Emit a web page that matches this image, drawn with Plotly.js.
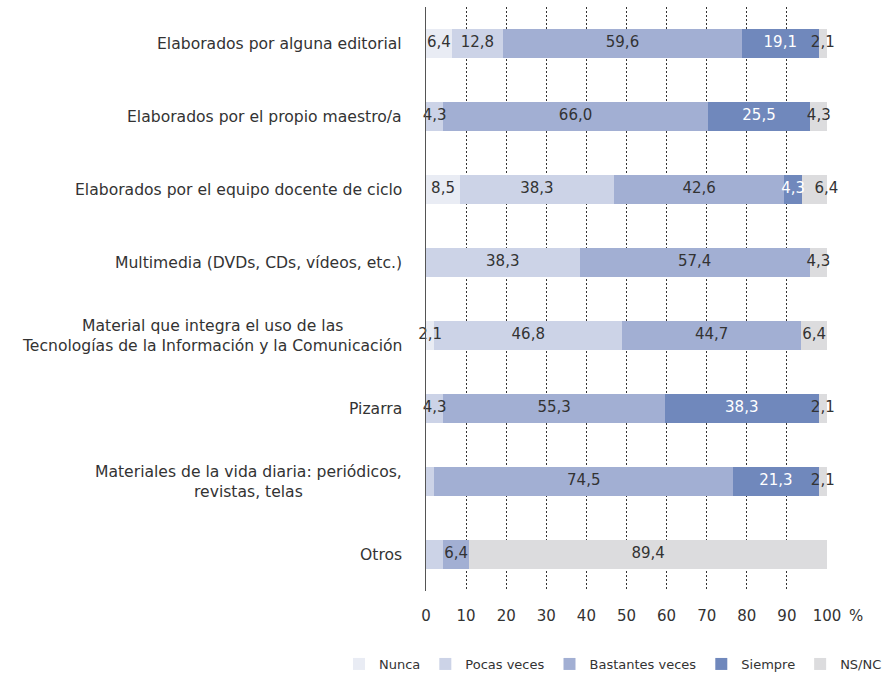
<!DOCTYPE html>
<html>
<head>
<meta charset="utf-8">
<script src="https://cdn.plot.ly/plotly-3.0.1.min.js"></script>
<style>html,body{margin:0;padding:0;background:#fff;}#chart{width:893px;height:677px;}</style>
</head>
<body>
<div id="chart"></div>
<script>
const categories = [
  "Elaborados por alguna editorial",
  "Elaborados por el propio maestro/a",
  "Elaborados por el equipo docente de ciclo",
  "Multimedia (DVDs, CDs, vídeos, etc.)",
  "Material que integra el uso de las<br>Tecnologías de la Información y la Comunicación",
  "Pizarra",
  "Materiales de la vida diaria: periódicos,<br>revistas, telas",
  "Otros"
];
const seriesNames = ["Nunca", "Pocas veces", "Bastantes veces", "Siempre", "NS/NC"];
const nunca     = [6.4, 0, 8.5, 0, 2.1, 0, 0, 0];
const pocas     = [12.8, 4.3, 38.3, 38.3, 46.8, 4.3, 2.1, 4.3];
const bastantes = [59.6, 66.0, 42.6, 57.4, 44.7, 55.3, 74.5, 6.4];
const siempre   = [19.1, 25.5, 4.3, 0, 0, 38.3, 21.3, 0];
const nsnc      = [2.1, 4.3, 6.4, 4.3, 6.4, 2.1, 2.1, 89.4];
// labels not printed in the original (segment too narrow)
const hiddenLabels = {"Pocas veces": [6, 7]};
// labels nudged to the right of their segment centre to avoid a neighbour
const nudgedLabels = {"NS/NC": [2]};
const xTickVals = [0, 10, 20, 30, 40, 50, 60, 70, 80, 90, 100];

const seriesValues = [nunca, pocas, bastantes, siempre, nsnc];
const colors = ["#E9ECF4", "#CCD3E7", "#A2AFD3", "#7088BC", "#DCDCDE"];
const textColors = ["#333333", "#333333", "#333333", "#ffffff", "#333333"];
const FONT = "DejaVu Sans, Verdana, sans-serif";

const barTraces = seriesNames.map((name, i) => ({
  type: "bar",
  orientation: "h",
  name: name,
  y: categories,
  x: seriesValues[i],
  marker: {color: colors[i], line: {width: 0}},
  hoverinfo: "skip",
  width: 0.41
}));

// value labels drawn on top of all bars, centred on each segment
const bases = categories.map(() => 0);
const labelTraces = seriesNames.map((name, i) => {
  const hid = hiddenLabels[name] || [];
  const nud = nudgedLabels[name] || [];
  const xs = [], ys = [], ts = [], ps = [];
  seriesValues[i].forEach((v, j) => {
    if (v > 0 && hid.indexOf(j) < 0) {
      xs.push(bases[j] + v / 2);
      ys.push(categories[j]);
      ts.push(v.toFixed(1).replace(".", ","));
      ps.push(nud.indexOf(j) >= 0 ? "middle right" : "middle center");
    }
    bases[j] += v;
  });
  return {
    type: "scatter", mode: "text", x: xs, y: ys, text: ts,
    textposition: ps, cliponaxis: false, showlegend: false,
    textfont: {family: FONT, size: 15, color: textColors[i]},
    hoverinfo: "skip"
  };
});

const annotations = categories.map(c => ({
  xref: "paper", yref: "y", x: 0, y: c, xanchor: "right", yanchor: "middle",
  xshift: -22, text: c, showarrow: false, align: "center",
  font: {family: FONT, size: 15.6, color: "#333333"}
}));
annotations.push({
  xref: "paper", yref: "paper", x: 1, y: 0, xanchor: "left", yanchor: "top",
  xshift: 20, yshift: -14, text: "%", showarrow: false,
  font: {family: FONT, size: 15, color: "#333333"}
});

const layout = {
  width: 893, height: 677,
  margin: {l: 426, r: 66, t: 7, b: 86, autoexpand: false},
  paper_bgcolor: "#ffffff", plot_bgcolor: "#ffffff",
  barmode: "stack",
  font: {family: FONT, size: 15, color: "#333333"},
  showlegend: true,
  legend: {
    orientation: "h", x: -0.217, xanchor: "left", y: -0.125, yanchor: "middle",
    traceorder: "normal", font: {family: FONT, size: 13, color: "#333333"}
  },
  xaxis: {
    range: [0, 100], tickvals: xTickVals, ticktext: xTickVals.map(String),
    showgrid: true, gridcolor: "#333333", griddash: "2px,2px", gridwidth: 1,
    zeroline: false, showline: false, ticks: "", ticklabelstandoff: 14,
    tickfont: {family: FONT, size: 15, color: "#333333"}, fixedrange: true
  },
  yaxis: {
    type: "category", categoryorder: "array", categoryarray: categories,
    autorange: "reversed", showticklabels: false, showgrid: false,
    showline: true, linecolor: "#555555", linewidth: 1, ticks: "", zeroline: false,
    fixedrange: true
  },
  annotations: annotations
};

Plotly.newPlot("chart", barTraces.concat(labelTraces), layout, {displayModeBar: false, staticPlot: true});
</script>
</body>
</html>
